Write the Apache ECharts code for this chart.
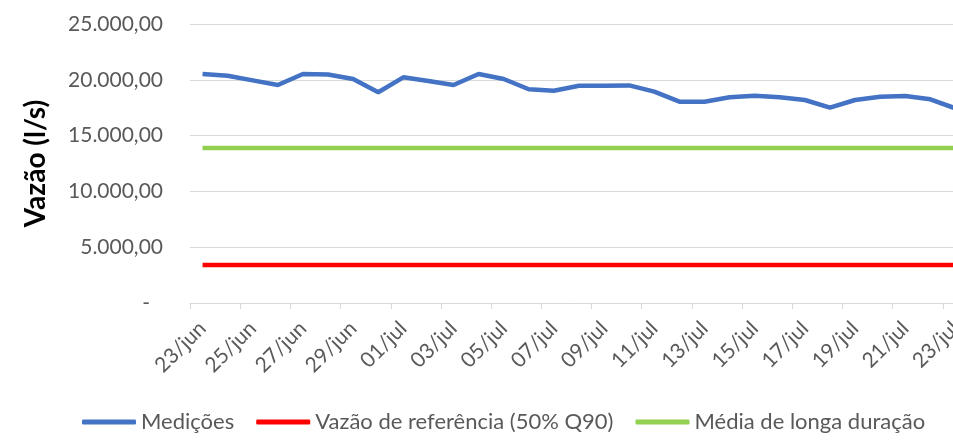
<!DOCTYPE html>
<html>
<head>
<meta charset="utf-8">
<script src="https://cdn.jsdelivr.net/npm/echarts@6/dist/echarts.min.js"></script>
<style>html,body{margin:0;padding:0;background:#fff}#c{width:953px;height:440px}</style>
</head>
<body>
<div id="c"></div>
<script>
const categories = ['23/jun','24/jun','25/jun','26/jun','27/jun','28/jun','29/jun','30/jun',
  '01/jul','02/jul','03/jul','04/jul','05/jul','06/jul','07/jul','08/jul','09/jul','10/jul',
  '11/jul','12/jul','13/jul','14/jul','15/jul','16/jul','17/jul','18/jul','19/jul','20/jul',
  '21/jul','22/jul','23/jul'];
const medicoes = [20520, 20370, 19950, 19530, 20520, 20480, 20070, 18880, 20220, 19890,
  19530, 20520, 20070, 19150, 19020, 19470, 19470, 19500, 18940, 18040, 18040, 18430,
  18580, 18430, 18190, 17500, 18190, 18490, 18550, 18250, 17440];
const referencia = [3400,3400,3400,3400,3400,3400,3400,3400,3400,3400,3400,3400,3400,3400,3400,3400,
  3400,3400,3400,3400,3400,3400,3400,3400,3400,3400,3400,3400,3400,3400,3400];
const mediaLonga = [13900,13900,13900,13900,13900,13900,13900,13900,13900,13900,13900,13900,13900,
  13900,13900,13900,13900,13900,13900,13900,13900,13900,13900,13900,13900,13900,13900,13900,13900,13900,13900];
const yTicks = {min: 0, max: 25000, interval: 5000};

function fmt(v) {
  if (v === 0) return '{d|-}';
  const s = Math.round(v).toString().replace(/\B(?=(\d{3})+(?!\d))/g, '.');
  return s + ',00';
}

const FONT = 'Lato';
const chart = echarts.init(document.getElementById('c'));
chart.setOption({
  animation: false,
  grid: {left: 190, width: 778, top: 24, bottom: 137, outerBoundsMode: 'none', containLabel: false},
  legend: {
    left: 77, bottom: 2,
    itemWidth: 54, itemHeight: 5, itemGap: 22, icon: 'roundRect',
    textStyle: {fontFamily: FONT, fontSize: 22, color: '#595959'},
    data: ['Medições', 'Vazão de referência (50% Q90)', 'Média de longa duração']
  },
  xAxis: {
    type: 'category', data: categories, boundaryGap: true,
    axisLine: {lineStyle: {color: '#D9D9D9', width: 1}},
    axisTick: {show: true, interval: 1, length: 6, lineStyle: {color: '#D9D9D9'}},
    axisLabel: {interval: 1, rotate: 45, margin: 22, fontFamily: FONT, fontSize: 21, color: '#595959'},
    splitLine: {show: false}
  },
  yAxis: {
    type: 'value', min: yTicks.min, max: yTicks.max, interval: yTicks.interval,
    name: 'Vazão (l/s)', nameLocation: 'middle', nameRotate: 90, nameGap: 140,
    nameTextStyle: {fontFamily: FONT, fontSize: 28, fontWeight: 'bold', color: '#000'},
    axisLine: {show: false}, axisTick: {show: false},
    axisLabel: {margin: 27, fontFamily: FONT, fontSize: 21, color: '#595959', formatter: fmt,
      rich: {d: {fontFamily: FONT, fontSize: 21, color: '#595959', padding: [0, 13, 0, 0]}}},
    splitLine: {lineStyle: {color: '#D9D9D9', width: 1}}
  },
  series: [
    {name: 'Medições', type: 'line', data: medicoes, showSymbol: false,
      lineStyle: {color: '#4472C4', width: 4.5}, itemStyle: {color: '#4472C4'}},
    {name: 'Vazão de referência (50% Q90)', type: 'line', data: referencia, showSymbol: false,
      lineStyle: {color: '#FF0000', width: 4.5}, itemStyle: {color: '#FF0000'}},
    {name: 'Média de longa duração', type: 'line', data: mediaLonga, showSymbol: false,
      lineStyle: {color: '#92D050', width: 4.5}, itemStyle: {color: '#92D050'}}
  ]
});
</script>
</body>
</html>
